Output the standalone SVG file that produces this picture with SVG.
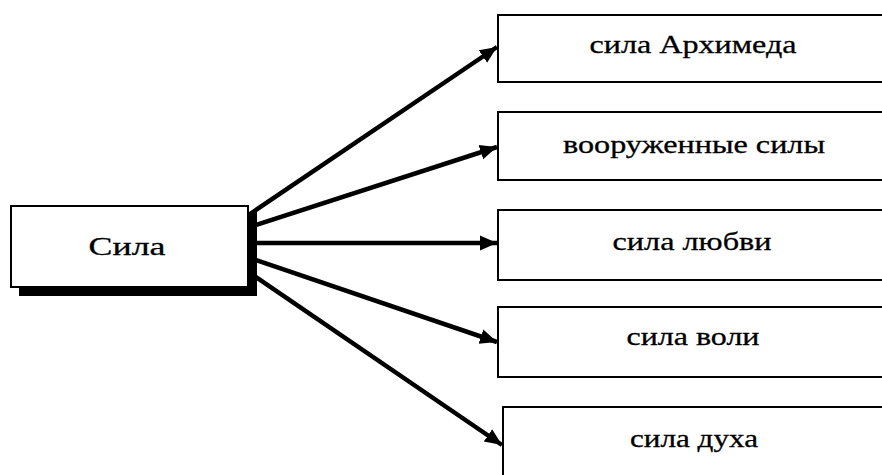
<svg xmlns="http://www.w3.org/2000/svg" width="882" height="475" viewBox="0 0 882 475">
<defs>
<style>
.box{fill:#fff;stroke:#000;stroke-width:2}
.lbl{font-family:"Liberation Serif","DejaVu Serif",serif;font-size:26px;fill:#000;stroke:#000;stroke-width:0.3;text-anchor:middle}
.con{stroke:#000;stroke-width:4.5;fill:none;marker-end:url(#ah)}
</style>
<marker id="ah" markerUnits="userSpaceOnUse" markerWidth="20" markerHeight="18" refX="17" refY="9" orient="auto">
<path d="M0,1.5 L17,9 L0,16.5 Z" fill="#000"/>
</marker>
</defs>
<rect width="882" height="475" fill="#fff"/>
<g id="connectors">
<line class="con" x1="250" y1="214" x2="497" y2="47"/>
<line class="con" x1="250" y1="227" x2="497" y2="147"/>
<line class="con" x1="250" y1="243" x2="497" y2="243"/>
<line class="con" x1="250" y1="258" x2="497" y2="342"/>
<line class="con" x1="250" y1="273" x2="502" y2="445"/>
</g>
<g id="sila">
<rect x="19" y="212" width="238" height="84" fill="#000"/>
<rect class="box" x="11" y="206" width="237" height="81" stroke-width="1.5"/>
<text class="lbl" x="127" y="255" textLength="77" lengthAdjust="spacingAndGlyphs">Сила</text>
</g>
<g id="arkhimed">
<rect class="box" x="498" y="15" width="400" height="67"/>
<text class="lbl" x="693" y="53" textLength="207" lengthAdjust="spacingAndGlyphs">сила Архимеда</text>
</g>
<g id="vooruzh">
<rect class="box" x="498" y="112" width="400" height="68"/>
<text class="lbl" x="694" y="153" textLength="262" lengthAdjust="spacingAndGlyphs">вооруженные силы</text>
</g>
<g id="lyubvi">
<rect class="box" x="498" y="210" width="400" height="70"/>
<text class="lbl" x="692" y="250" textLength="159" lengthAdjust="spacingAndGlyphs">сила любви</text>
</g>
<g id="voli">
<rect class="box" x="498" y="307" width="400" height="70"/>
<text class="lbl" x="693" y="345" textLength="133" lengthAdjust="spacingAndGlyphs">сила воли</text>
</g>
<g id="dukha">
<rect class="box" x="503" y="407" width="400" height="80"/>
<text class="lbl" x="694" y="447" textLength="128" lengthAdjust="spacingAndGlyphs">сила духа</text>
</g>
</svg>
